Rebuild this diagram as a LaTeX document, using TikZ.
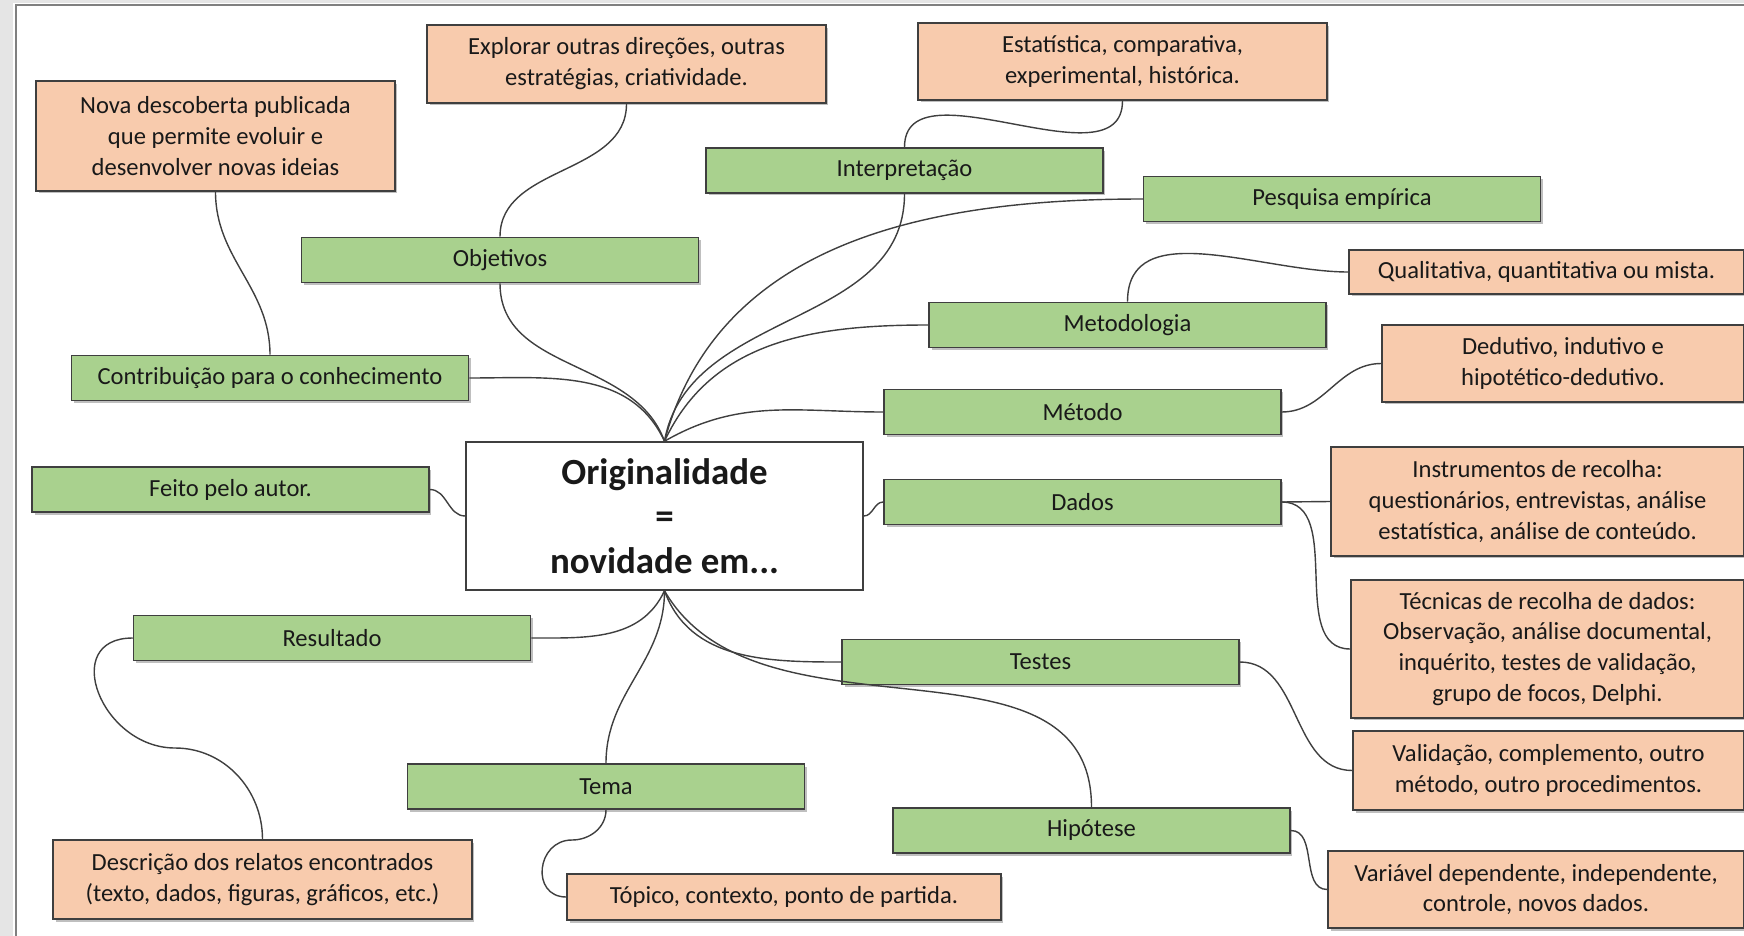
\documentclass[tikz,border=0pt]{standalone}
\usepackage{fontspec}
\setmainfont{Carlito}
\usetikzlibrary{shadows}
\definecolor{verde}{HTML}{A9D18E}
\definecolor{laranja}{HTML}{F8CBAD}
\definecolor{contorno}{HTML}{3F3F3F}
\tikzset{
  caixa/.style={draw=contorno, line width=0.9pt, align=center, inner sep=2pt, text=black!90,
    font=\fontsize{14}{17.6}\selectfont,
    drop shadow={shadow xshift=0.05cm, shadow yshift=-0.05cm, fill=black, opacity=0.25}},
  ramo/.style={caixa, fill=verde, minimum width=7.94cm, minimum height=0.9cm},
  nota/.style={caixa, fill=laranja},
  centro/.style={draw=contorno, fill=white, line width=0.9pt, align=center, text=black!90,
    minimum width=7.94cm, minimum height=2.96cm, font=\fontsize{21}{25.5}\selectfont\bfseries},
  liga/.style={draw=contorno, line width=0.8pt},
}

\begin{document}
\begin{tikzpicture}[x=0.02cm, y=0.02cm]
\useasboundingbox (0,0) rectangle (1744,-936);
% moldura
\fill[black!10] (0,0) rectangle (13,-936);
\fill[black!10] (0,0) rectangle (1744,-3);
\draw[black!50, line width=1.2pt] (16,-936) -- (16,-5) -- (1744,-5);

% caixa central
\node (orig) at (664.5,-516) [centro] {Originalidade\\=\\novidade em...};

% ramos
\node (contrib) at (270,-378) [ramo] {Contribuição para o conhecimento};
\node (objet) at (500,-260) [ramo] {Objetivos};
\node (interp) at (904.5,-170.5) [ramo] {Interpretação};
\node (pesq) at (1342,-199) [ramo] {Pesquisa empírica};
\node (metod) at (1127.5,-325) [ramo] {Metodologia};
\node (metodo) at (1082.5,-412) [ramo] {Método};
\node (feito) at (230.5,-489.5) [ramo] {Feito pelo autor.};
\node (dados) at (1082.5,-502) [ramo] {Dados};
\node (result) at (332,-638) [ramo] {Resultado};
\node (testes) at (1040.5,-662) [ramo] {Testes};
\node (tema) at (606,-786.5) [ramo] {Tema};
\node (hipot) at (1091.5,-830.5) [ramo] {Hipótese};

% notas
\node (nova) at (215.5,-136) [nota, minimum width=7.18cm, minimum height=2.2cm]
  {Nova descoberta publicada\\que permite evoluir e\\desenvolver novas ideias};
\node (explorar) at (626.5,-64) [nota, minimum width=7.98cm, minimum height=1.56cm]
  {Explorar outras direções, outras\\estratégias, criatividade.};
\node (estat) at (1122.5,-61.5) [nota, minimum width=8.18cm, minimum height=1.54cm]
  {Estatística, comparativa,\\experimental, histórica.};
\node (qualit) at (1546.5,-272) [nota, minimum width=7.9cm, minimum height=0.88cm]
  {Qualitativa, quantitativa ou mista.};
\node (dedut) at (1563,-363.5) [nota, minimum width=7.24cm, minimum height=1.54cm]
  {Dedutivo, indutivo e\\hipotético-dedutivo.};
\node (instr) at (1537.5,-501.5) [nota, minimum width=8.26cm, minimum height=2.18cm]
  {Instrumentos de recolha:\\questionários, entrevistas, análise\\estatística, análise de conteúdo.};
\node (tecn) at (1547.5,-649) [nota, minimum width=7.86cm, minimum height=2.76cm]
  {Técnicas de recolha de dados:\\Observação, análise documental,\\inquérito, testes de validação,\\grupo de focos, Delphi.};
\node (valid) at (1548.5,-770.5) [nota, minimum width=7.82cm, minimum height=1.58cm]
  {Validação, complemento, outro\\método, outro procedimentos.};
\node (descr) at (262.5,-879.5) [nota, minimum width=8.38cm, minimum height=1.58cm]
  {Descrição dos relatos encontrados\\(texto, dados, figuras, gráficos, etc.)};
\node (topico) at (784,-897) [nota, minimum width=8.68cm, minimum height=0.92cm]
  {Tópico, contexto, ponto de partida.};
\node (variav) at (1536,-889.5) [nota, minimum width=8.32cm, minimum height=1.54cm]
  {Variável dependente, independente,\\controle, novos dados.};

% ligacoes ao centro
\draw[liga] (contrib.east) to[out=0, in=115] (orig.north);
\draw[liga] (objet.south) to[out=-90, in=110] (orig.north);
\draw[liga] (interp.south) to[out=-90, in=80] (orig.north);
\draw[liga] (pesq.west) to[out=180, in=75] (orig.north);
\draw[liga] (metod.west) to[out=180, in=65] (orig.north);
\draw[liga] (metodo.west) to[out=180, in=30] (orig.north);
\draw[liga] (feito.east) to[out=0, in=180] (orig.west);
\draw[liga] (dados.west) to[out=180, in=0] (orig.east);
\draw[liga] (result.east) to[out=0, in=-115] (orig.south);
\draw[liga] (tema.north) to[out=90, in=-90] (orig.south);
\draw[liga] (testes.west) to[out=180, in=-70] (orig.south);
\draw[liga] (hipot.north) to[out=90, in=-60] (orig.south);

% ligacoes as notas
\coordinate (cres) at (175,-748);
\coordinate (ctema) at (572,-840);
\draw[liga] (nova.south) to[out=-90, in=90] (contrib.north);
\draw[liga] (explorar.south) to[out=-90, in=90] (objet.north);
\draw[liga] (estat.south) to[out=-90, in=90] (interp.north);
\draw[liga] (metod.north) to[out=90, in=180] (qualit.west);
\draw[liga] (metodo.east) to[out=0, in=180] (dedut.west);
\draw[liga] (dados.east) -- (instr.west);
\draw[liga] (dados.east) to[out=0, in=180] (tecn.west);
\draw[liga] (testes.east) to[out=0, in=180] (valid.west);
\draw[liga] (hipot.east) to[out=0, in=180] (variav.west);
\draw[liga] (result.west) to[out=180, in=180, looseness=1.6] (cres) to[out=0, in=90] (descr.north);
\draw[liga] (tema.south) to[out=-90, in=0] (ctema) to[out=180, in=180, looseness=1.6] (topico.west);
\end{tikzpicture}
\end{document}
